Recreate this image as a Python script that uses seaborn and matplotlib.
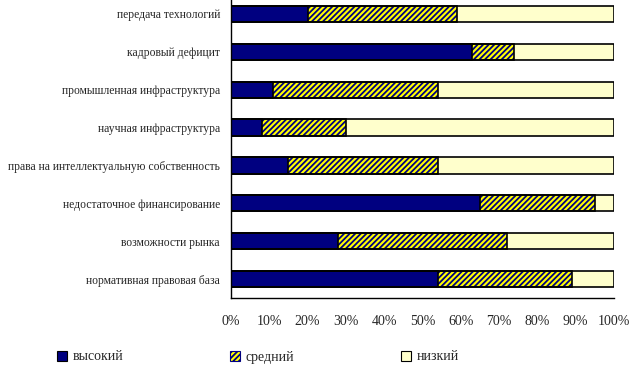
import numpy as np
import pandas as pd
import matplotlib
matplotlib.use('Agg')
import matplotlib.pyplot as plt
import seaborn as sns
from matplotlib.patches import Patch

categories = ['передача технологий', 'кадровый дефицит', 'промышленная инфраструктура',
              'научная инфраструктура', 'права на интеллектуальную собственность',
              'недостаточное финансирование', 'возможности рынка', 'нормативная правовая база']
high = [20, 63, 11, 8, 15, 65, 28, 54]
mid = [39, 11, 43, 22, 39, 30, 44, 35]
low = [41, 26, 46, 70, 46, 5, 28, 11]
series = ['высокий', 'средний', 'низкий']
xticks = [0, 10, 20, 30, 40, 50, 60, 70, 80, 90, 100]

sns.set_style('white')
plt.rcParams['font.family'] = ['Liberation Serif', 'DejaVu Serif']
plt.rcParams['hatch.linewidth'] = 1.3

df = pd.DataFrame({'cat': categories, 'high': high, 'mid': mid, 'low': low})
df['cum_mid'] = df['high'] + df['mid']
df['total'] = df['cum_mid'] + df['low']

fig = plt.figure(figsize=(6.36, 3.70), dpi=100)
ax = fig.add_axes([231 / 636, 72 / 370, 383 / 636, 303 / 370])

bw = 0.43
sns.barplot(data=df, x='total', y='cat', color='#FFFFCC', width=bw, ax=ax, saturation=1, linewidth=0)
sns.barplot(data=df, x='cum_mid', y='cat', color='#FFFF00', width=bw, ax=ax, saturation=1, linewidth=0)
for p in ax.patches[8:16]:
    p.set_hatch('//////')
    p.set_edgecolor('#000080')
    p.set_linewidth(0)
sns.barplot(data=df, x='high', y='cat', color='#000080', width=bw, ax=ax, saturation=1, linewidth=0)
# black outlines around each segment
for col in ['total', 'cum_mid', 'high']:
    sns.barplot(data=df, x=col, y='cat', fill=False, width=bw, ax=ax,
                edgecolor='black', linewidth=1.2)

ax.set_xlim(0, 100)
ax.set_ylim(7.5, -0.5)
ax.set_xticks(xticks)
ax.set_xticklabels([f'{t}%' for t in xticks], fontsize=10)
ax.set_yticks(np.arange(8))
ax.set_yticklabels(categories, fontsize=8.4)
ax.set_yticks(np.arange(8) + 0.5, minor=True)
ax.tick_params(axis='y', which='major', length=0, pad=8)
ax.tick_params(axis='y', which='minor', length=4, width=1, color='black', direction='out')
ax.tick_params(axis='x', length=4, width=1, color='black', direction='out', pad=8)
ax.set_xlabel('')
ax.set_ylabel('')
for s in ['top', 'right']:
    ax.spines[s].set_visible(False)
for s in ['left', 'bottom']:
    ax.spines[s].set_color('black')
    ax.spines[s].set_linewidth(1)

handles = [Patch(facecolor='#000080', edgecolor='black', linewidth=0.8),
           Patch(facecolor='#FFFF00', edgecolor='#000080', hatch='//////', linewidth=0.8),
           Patch(facecolor='#FFFFCC', edgecolor='black', linewidth=0.8)]
for h, lab, xpos in zip(handles, series, [57, 230, 401]):
    fig.legend([h], [lab], loc='center left', bbox_to_anchor=(xpos / 636, 1 - 357 / 370),
               frameon=False, fontsize=10, handlelength=0.75, handleheight=0.75,
               handletextpad=0.35, borderpad=0, borderaxespad=0)

fig.savefig('out.png', dpi=100)
